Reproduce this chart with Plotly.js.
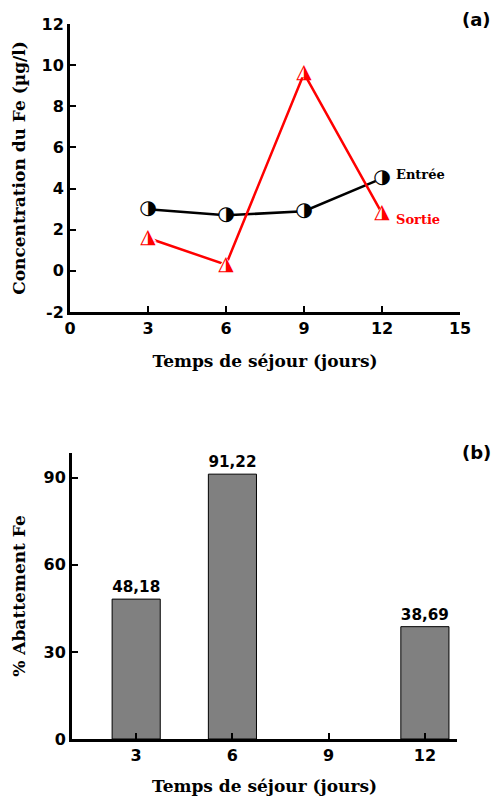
<!DOCTYPE html>
<html>
<head>
<meta charset="utf-8">
<script src="https://cdn.plot.ly/plotly-3.0.1.min.js"></script>
<style>html,body{margin:0;padding:0;background:#fff;}#chart{width:495px;height:796px;}</style>
</head>
<body>
<div id="chart"></div>
<script>
// ---- Data ----
const days = [3, 6, 9, 12];
const entree = [3.0, 2.7, 2.9, 4.5];
const sortie = [1.6, 0.3, 9.6, 2.8];
const abattement = [48.18, 91.22, null, 38.69];
const abattementLabels = ["48,18", "91,22", "", "38,69"];
const xTicksTop = [0, 3, 6, 9, 12, 15];
const yTicksTop = [-2, 0, 2, 4, 6, 8, 10, 12];
const yTickTextTop = ["-2", "0", "2", "4", "6", "8", "10", "12"];
const yTicksBottom = [0, 30, 60, 90];

const serif = "DejaVu Serif";
const sans = "DejaVu Sans";

const traces = [
  {x: days, y: entree, type: 'scatter', mode: 'lines+markers', xaxis: 'x', yaxis: 'y',
   line: {color: '#000', width: 2.5}, marker: {symbol: 'circle', size: 14, color: '#fff'},
   showlegend: false, hoverinfo: 'skip'},
  {x: days, y: sortie, type: 'scatter', mode: 'lines+markers', xaxis: 'x', yaxis: 'y',
   line: {color: '#ff0000', width: 2.5}, marker: {symbol: 'triangle-up', size: 15, color: '#fff'},
   showlegend: false, hoverinfo: 'skip'},
  {x: days, y: entree, type: 'scatter', mode: 'text', xaxis: 'x', yaxis: 'y',
   text: days.map(() => '\u25D1'), textposition: 'middle center',
   textfont: {family: sans, size: 20, color: '#000'}, showlegend: false, hoverinfo: 'skip'},
  {x: days, y: sortie, type: 'scatter', mode: 'text', xaxis: 'x', yaxis: 'y',
   text: days.map(() => '\u25EE'), textposition: 'middle center',
   textfont: {family: sans, size: 20, color: '#ff0000'}, showlegend: false, hoverinfo: 'skip'},
  {x: days, y: abattement, type: 'bar', xaxis: 'x2', yaxis: 'y2', width: 1.5,
   marker: {color: '#808080', line: {color: '#000', width: 1}},
   text: abattementLabels, textposition: 'outside', cliponaxis: false,
   textfont: {family: sans, size: 16, color: '#000', weight: 'bold'},
   showlegend: false, hoverinfo: 'skip'}
];

const tickFont = {family: sans, size: 16, color: '#000', weight: 'bold'};
const titleFont = {family: serif, size: 17, color: '#000', weight: 'bold'};

const layout = {
  width: 495, height: 796,
  margin: {l: 0, r: 0, t: 0, b: 0},
  paper_bgcolor: '#fff', plot_bgcolor: 'rgba(0,0,0,0)',
  showlegend: false,
  xaxis: {domain: [0.1414, 0.9293], range: [0, 15], tickvals: xTicksTop,
    showline: true, linecolor: '#000', linewidth: 3, ticks: 'inside', ticklen: 6, tickwidth: 2, tickcolor: '#000',
    showgrid: false, zeroline: false, tickfont: tickFont, anchor: 'y',
    title: {text: 'Temps de séjour (jours)', font: titleFont, standoff: 18}, automargin: false},
  yaxis: {domain: [0.608, 0.9698], range: [-2, 12], tickvals: yTicksTop, ticktext: yTickTextTop,
    showline: true, linecolor: '#000', linewidth: 3, ticks: 'inside', ticklen: 6, tickwidth: 2, tickcolor: '#000',
    showgrid: false, zeroline: false, tickfont: tickFont, anchor: 'x',
    title: {text: 'Concentration du Fe (µg/l)', font: titleFont, standoff: 12}, automargin: false},
  xaxis2: {domain: [0.1455, 0.9232], range: [1, 13], tickvals: days,
    showline: true, linecolor: '#000', linewidth: 3, ticks: 'inside', ticklen: 6, tickwidth: 2, tickcolor: '#000',
    showgrid: false, zeroline: false, tickfont: tickFont, anchor: 'y2',
    title: {text: 'Temps de séjour (jours)', font: titleFont, standoff: 20}, automargin: false},
  yaxis2: {domain: [0.0716, 0.4309], range: [0, 98.5], tickvals: yTicksBottom,
    showline: true, linecolor: '#000', linewidth: 3, ticks: 'inside', ticklen: 6, tickwidth: 2, tickcolor: '#000',
    showgrid: false, zeroline: false, tickfont: tickFont, anchor: 'x2',
    title: {text: '% Abattement Fe', font: titleFont, standoff: 14}, automargin: false},
  annotations: [
    {xref: 'x', yref: 'y', x: 12.45, y: 4.7, text: 'Entrée', showarrow: false, xanchor: 'left', yanchor: 'middle',
     font: {family: serif, size: 13, color: '#000', weight: 'bold'}},
    {xref: 'x', yref: 'y', x: 12.45, y: 2.5, text: 'Sortie', showarrow: false, xanchor: 'left', yanchor: 'middle',
     font: {family: serif, size: 13, color: '#ff0000', weight: 'bold'}},
    {xref: 'paper', yref: 'paper', x: 0.995, y: 0.975, text: '(a)', showarrow: false, xanchor: 'right', yanchor: 'middle',
     font: {family: sans, size: 18, color: '#000', weight: 'bold'}},
    {xref: 'paper', yref: 'paper', x: 0.995, y: 0.432, text: '(b)', showarrow: false, xanchor: 'right', yanchor: 'middle',
     font: {family: sans, size: 18, color: '#000', weight: 'bold'}}
  ]
};

Plotly.newPlot('chart', traces, layout, {staticPlot: true, displayModeBar: false});
</script>
</body>
</html>
